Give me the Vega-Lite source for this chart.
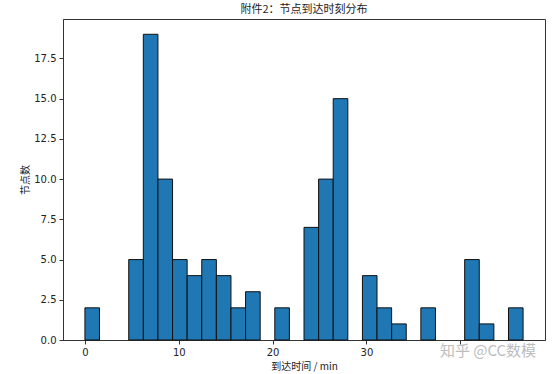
{
  "$schema": "https://vega.github.io/schema/vega-lite/v6.json",
  "autosize": {"type": "none"},
  "width": 482,
  "height": 321,
  "padding": {"left": 63, "top": 19, "right": 11, "bottom": 34},
  "background": "white",
  "title": {"text": "附件2：节点到达时刻分布", "font": "Noto Sans CJK SC", "fontSize": 11, "fontWeight": "normal", "color": "#222", "anchor": "middle", "offset": 4},
  "config": {
    "view": {"stroke": "#333", "strokeWidth": 1},
    "axis": {"grid": false, "domainColor": "#333", "tickColor": "#333", "tickSize": 4, "labelFont": "DejaVu Sans", "labelFontSize": 10, "labelColor": "#222", "titleFont": "Noto Sans CJK SC", "titleFontSize": 10, "titleFontWeight": "normal", "titleColor": "#222"}
  },
  "layer": [
    {
      "data": {"values": [
        {"start": 0, "end": 1.5567, "count": 2},
        {"start": 4.67, "end": 6.2267, "count": 5},
        {"start": 6.2267, "end": 7.7833, "count": 19},
        {"start": 7.7833, "end": 9.34, "count": 10},
        {"start": 9.34, "end": 10.8967, "count": 5},
        {"start": 10.8967, "end": 12.4533, "count": 4},
        {"start": 12.4533, "end": 14.01, "count": 5},
        {"start": 14.01, "end": 15.5667, "count": 4},
        {"start": 15.5667, "end": 17.1233, "count": 2},
        {"start": 17.1233, "end": 18.68, "count": 3},
        {"start": 20.2367, "end": 21.7933, "count": 2},
        {"start": 23.35, "end": 24.9067, "count": 7},
        {"start": 24.9067, "end": 26.4633, "count": 10},
        {"start": 26.4633, "end": 28.02, "count": 15},
        {"start": 29.5767, "end": 31.1333, "count": 4},
        {"start": 31.1333, "end": 32.69, "count": 2},
        {"start": 32.69, "end": 34.2467, "count": 1},
        {"start": 35.8033, "end": 37.36, "count": 2},
        {"start": 40.4733, "end": 42.03, "count": 5},
        {"start": 42.03, "end": 43.5867, "count": 1},
        {"start": 45.1433, "end": 46.7, "count": 2}
      ]},
      "mark": {"type": "bar", "color": "#1f77b4", "stroke": "#111", "strokeWidth": 1},
      "encoding": {
        "x": {"field": "start", "type": "quantitative", "scale": {"domain": [-2.335, 49.035], "nice": false, "zero": false}, "axis": {"values": [0, 10, 20, 30, 40], "labelExpr": "datum.value == 40 ? '' : datum.label", "title": "到达时间 / min", "titlePadding": 4, "labelPadding": 3}},
        "x2": {"field": "end"},
        "y": {"field": "count", "type": "quantitative", "scale": {"domain": [0, 19.95], "nice": false}, "axis": {"values": [0, 2.5, 5, 7.5, 10, 12.5, 15, 17.5], "format": ".1f", "title": "节点数", "titlePadding": 3, "labelPadding": 3}},
        "y2": {"datum": 0}
      }
    },
    {
      "data": {"values": [{"label": "知乎 @CC数模", "x": 42.96, "y": -0.68}]},
      "mark": {"type": "text", "font": "Noto Sans CJK SC", "fontSize": 15, "color": "#bdbdbd", "align": "center", "baseline": "middle", "clip": false},
      "encoding": {
        "text": {"field": "label"},
        "x": {"field": "x", "type": "quantitative"},
        "y": {"field": "y", "type": "quantitative"}
      }
    }
  ]
}
